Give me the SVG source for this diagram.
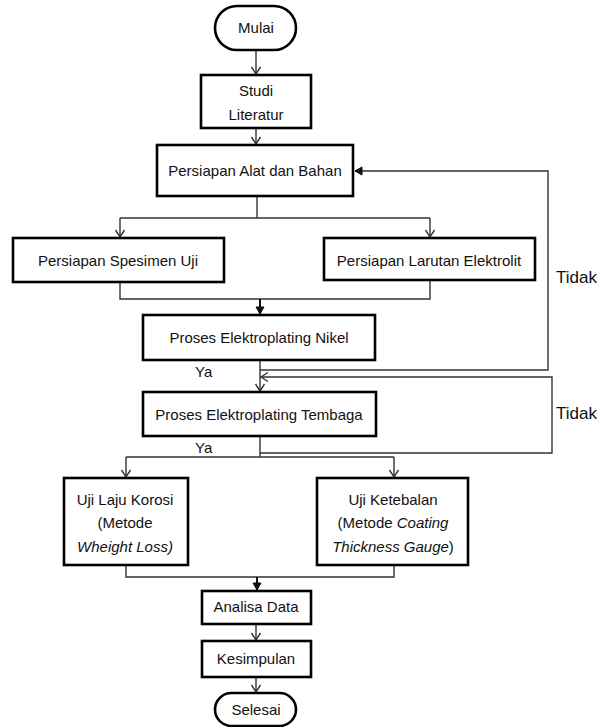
<svg xmlns="http://www.w3.org/2000/svg" width="612" height="727" viewBox="0 0 612 727">
<style>
.box{fill:#fff;stroke:#000;stroke-width:2.6}
.t{font-family:"Liberation Sans",Arial,sans-serif;font-size:15px;fill:#111;text-anchor:middle}
.lbl{font-family:"Liberation Sans",Arial,sans-serif;fill:#111}
.c{fill:none;stroke:#333;stroke-width:1.4}
.cb{fill:none;stroke:#111;stroke-width:2}
</style>
<defs>
<marker id="open" markerUnits="userSpaceOnUse" markerWidth="12" markerHeight="12" viewBox="0 0 12 12" refX="10" refY="6" orient="auto">
<path d="M3,1.5 L10,6 L3,10.5" fill="none" stroke="#333" stroke-width="1.4"/>
</marker>
<marker id="fill" markerUnits="userSpaceOnUse" markerWidth="12" markerHeight="12" viewBox="0 0 12 12" refX="10" refY="6" orient="auto">
<path d="M3,2 L10,6 L3,10 Z" fill="#111" stroke="#111" stroke-width="1"/>
</marker>
</defs>
<rect width="612" height="727" fill="#fff"/>
<g id="connectors">
<path class="c" d="M256,50 V74" marker-end="url(#open)"/>
<path class="c" d="M256,128 V144" marker-end="url(#open)"/>
<path class="c" d="M257,196 V218 M120,218 H430"/>
<path class="c" d="M120,218 V237" marker-end="url(#open)"/>
<path class="c" d="M430,218 V237" marker-end="url(#open)"/>
<path class="c" d="M120,282 V299 H430 V280"/>
<path class="cb" d="M260,299 V314" marker-end="url(#fill)"/>
<path class="c" d="M260,360 V391" marker-end="url(#open)"/>
<path class="c" d="M260,370 H548 V171 H355" marker-end="url(#fill)"/>
<path class="c" d="M260,453 H552 V377 H261" marker-end="url(#open)"/>
<path class="c" d="M260,436 V457 M126,457 H394"/>
<path class="c" d="M126,457 V477" marker-end="url(#open)"/>
<path class="c" d="M394,457 V477" marker-end="url(#open)"/>
<path class="c" d="M126,565 V577 H394 V565"/>
<path class="cb" d="M257,577 V590" marker-end="url(#fill)"/>
<path class="c" d="M256,624 V640" marker-end="url(#open)"/>
<path class="c" d="M256,677 V692" marker-end="url(#open)"/>
</g>
<g id="mulai"><rect class="box" x="215" y="6" width="81" height="44" rx="22"/><text class="t" x="256" y="33">Mulai</text></g>
<g id="studi"><rect class="box" x="201" y="75" width="110" height="53"/><text class="t" x="256" y="96">Studi</text><text class="t" x="256" y="120">Literatur</text></g>
<g id="alat"><rect class="box" x="157" y="145" width="196" height="51"/><text class="t" x="255" y="176">Persiapan Alat dan Bahan</text></g>
<g id="spesimen"><rect class="box" x="13" y="238" width="211" height="44"/><text class="t" x="118" y="266">Persiapan Spesimen Uji</text></g>
<g id="larutan"><rect class="box" x="324" y="238" width="211" height="42"/><text class="t" x="429" y="266">Persiapan Larutan Elektrolit</text></g>
<g id="nikel"><rect class="box" x="143" y="315" width="232" height="45"/><text class="t" x="259" y="343">Proses Elektroplating Nikel</text></g>
<g id="tembaga"><rect class="box" x="143" y="392" width="233" height="44"/><text class="t" x="259" y="420">Proses Elektroplating Tembaga</text></g>
<g id="korosi"><rect class="box" x="64" y="478" width="124" height="87"/><text class="t" x="125" y="505">Uji Laju Korosi</text><text class="t" x="125" y="528">(Metode</text><text class="t" x="125" y="552"><tspan font-style="italic">Wheight Loss)</tspan></text></g>
<g id="ketebalan"><rect class="box" x="317" y="478" width="151" height="87"/><text class="t" x="393" y="505">Uji Ketebalan</text><text class="t" x="393" y="528">(Metode <tspan font-style="italic">Coating</tspan></text><text class="t" x="393" y="552"><tspan font-style="italic">Thickness Gauge</tspan>)</text></g>
<g id="analisa"><rect class="box" x="202" y="591" width="109" height="33"/><text class="t" x="256" y="612">Analisa Data</text></g>
<g id="kesimpulan"><rect class="box" x="202" y="641" width="109" height="36"/><text class="t" x="256" y="664">Kesimpulan</text></g>
<g id="selesai"><rect class="box" x="215" y="693" width="81" height="33" rx="16.5"/><text class="t" x="256" y="715">Selesai</text></g>
<g id="labels">
<text class="lbl" x="195" y="377" font-size="15">Ya</text>
<text class="lbl" x="195" y="453" font-size="15">Ya</text>
<text class="lbl" x="556" y="283" font-size="17">Tidak</text>
<text class="lbl" x="556" y="419" font-size="17">Tidak</text>
</g>
</svg>
